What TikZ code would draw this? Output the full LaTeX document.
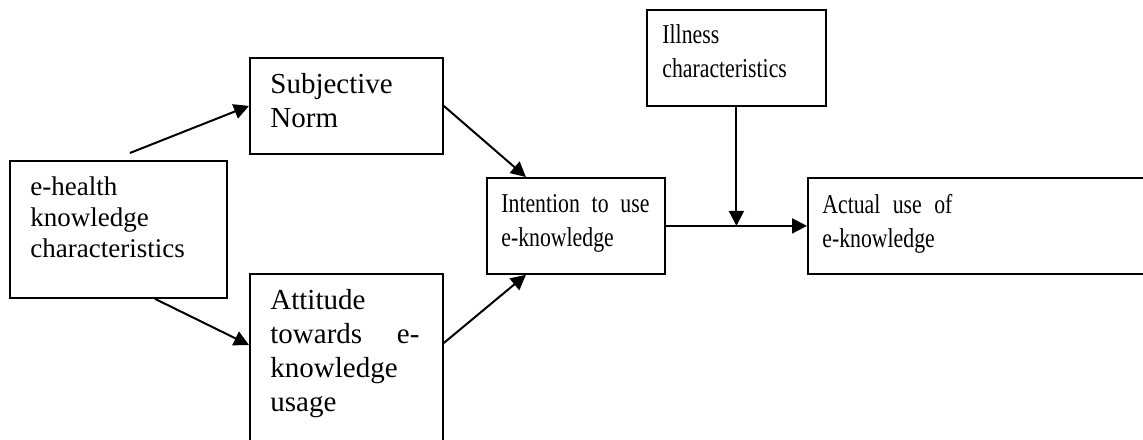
\documentclass[tikz,border=0pt]{standalone}
\usepackage{fontspec}
\setmainfont{Liberation Serif}
\newfontfamily\narrowfont[FakeStretch=0.8]{Liberation Serif}
\usetikzlibrary{arrows.meta, positioning, calc}

\tikzset{
  box/.style={draw, line width=0.9pt, inner sep=0pt, anchor=north west},
  boxtext/.style={anchor=north west, inner sep=0pt, align=left,
    font=\fontsize{14.5}{17}\selectfont},
  narrowtext/.style={boxtext, font=\narrowfont\fontsize{13.6}{17}\selectfont},
  link/.style={-{Triangle[length=7.5pt,width=7.5pt]}, line width=1pt},
}

\begin{document}
\begin{tikzpicture}[x=1pt,y=1pt]
  \clip (0,0) rectangle (571.5,-219.5);
  % boxes
  \node[box, minimum width=108.5pt, minimum height=68.5pt] (health) at (4.5,-80) {};
  \node[box, minimum width=96.5pt, minimum height=48pt] (norm) at (124.5,-28.5) {};
  \node[box, minimum width=96.5pt, minimum height=90pt] (attitude) at (124.5,-136.5) {};
  \node[box, minimum width=89pt, minimum height=48pt] (intention) at (243,-88.5) {};
  \node[box, minimum width=89.5pt, minimum height=48pt] (illness) at (323,-4.5) {};
  \node[box, minimum width=175pt, minimum height=48pt] (actual) at (403.5,-88.5) {};

  % texts
  \node[boxtext, font=\fontsize{13.5}{15.5}\selectfont] (healthtxt)
    at ($(health.north west)+(10.5,-8.3)$) {e-health\\knowledge\\characteristics};
  \node[boxtext] (normtxt) at ($(norm.north west)+(10.5,-8.2)$) {Subjective\\Norm};
  \node[boxtext, text width=74.5pt] (attitudetxt)
    at ($(attitude.north west)+(10.5,-8.2)$) {Attitude\\towards\hfill e-\\knowledge\\usage};
  \node[narrowtext, text width=74pt] (intentiontxt)
    at ($(intention.north west)+(7.5,-8.5)$) {Intention\hfill to\hfill use\\e-knowledge};
  \node[narrowtext] (illnesstxt) at ($(illness.north west)+(8,-7.5)$) {Illness\\characteristics};
  \node[narrowtext, text width=65pt] (actualtxt)
    at ($(actual.north west)+(7.5,-8.5)$) {Actual\hfill use\hfill of\\e-knowledge};

  % arrows
  \coordinate (start) at ($(health.north)+(5.75,3.5)$);
  \coordinate (joint) at (illness.south |- intention.east);
  \draw[link] (start) -- (norm.west);
  \draw[link] ($(health.south)+(18.25,0)$) -- ($(attitude.north west)+(0,-36)$);
  \draw[link] (norm.east) -- ($(intention.north)+(-25,0)$);
  \draw[link] ($(attitude.north east)+(0,-35)$) -- ($(intention.south)+(-25,0)$);
  \draw[link] (intention.east) -- (actual.west);
  \draw[link] (illness.south) -- (joint);
\end{tikzpicture}
\end{document}
